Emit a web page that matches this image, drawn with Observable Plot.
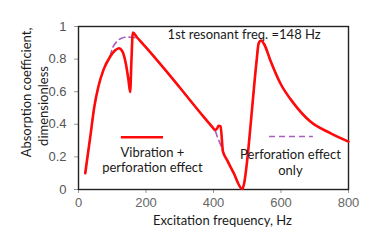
<!DOCTYPE html>
<html><head><meta charset="utf-8">
<script src="https://cdn.jsdelivr.net/npm/d3@7"></script>
<script src="https://cdn.jsdelivr.net/npm/@observablehq/plot@0.6"></script>
<style>html,body{margin:0;padding:0;background:#fff}</style>
</head><body><div id="chart"></div>
<script>
// Vibration + perforation effect (solid red)
const vibHz    = [20, 35, 47, 59, 74, 94, 108, 120, 130, 140, 148, 153, 157, 161, 173, 198, 265, 300, 362, 398, 404, 410, 415, 421, 428, 440, 460, 485, 490, 500, 514, 527, 534, 541, 551, 568, 598, 637, 687, 746, 800];
const vibAlpha = [0.10, 0.325, 0.509, 0.632, 0.734, 0.816, 0.853, 0.867, 0.847, 0.775, 0.673, 0.598, 0.80, 0.963, 0.934, 0.877, 0.714, 0.626, 0.468, 0.38, 0.366, 0.372, 0.391, 0.387, 0.233, 0.182, 0.10, 0.004, 0.03, 0.182, 0.489, 0.775, 0.898, 0.914, 0.888, 0.795, 0.652, 0.530, 0.417, 0.346, 0.294];
// Perforation effect only (dashed purple)
const perfHz    = [20, 35, 47, 59, 74, 94, 99, 114, 128, 145, 158, 173, 198, 265, 300, 362, 398, 404, 411, 421, 428, 440, 460, 485, 490, 500, 514, 527, 534, 541, 551, 568, 598, 637, 687, 746, 800];
const perfAlpha = [0.10, 0.325, 0.509, 0.632, 0.734, 0.82, 0.857, 0.908, 0.928, 0.935, 0.933, 0.93, 0.877, 0.714, 0.626, 0.468, 0.38, 0.366, 0.325, 0.274, 0.233, 0.182, 0.10, 0.004, 0.03, 0.182, 0.489, 0.775, 0.898, 0.914, 0.888, 0.795, 0.652, 0.530, 0.417, 0.346, 0.294];

const xTicks = [0, 200, 400, 600, 800];
const yTicks = [0, 0.2, 0.4, 0.6, 0.8, 1];
const seriesNames = ["Vibration +\nperforation effect", "Perforation effect\nonly"];
const annotation = "1st resonant freq. =148 Hz";
const xLabel = "Excitation frequency, Hz";
const yLabel = ["Absorption coefficient,", "dimensionless"];

const vib = vibHz.map((f, i) => ({f, a: vibAlpha[i]}));
const perf = perfHz.map((f, i) => ({f, a: perfAlpha[i]}));

const RED = "#ff0a0a", PURPLE = "#a45fc0";
const TXT = {fontFamily: "Lato", fontSize: 13, fill: "#1a1a1a"};

const chart = Plot.plot({
  width: 375, height: 243,
  marginLeft: 78, marginRight: 27, marginTop: 26, marginBottom: 54,
  style: {fontFamily: "Liberation Sans", fontSize: "13px", background: "#fff"},
  x: {domain: [0, 800]},
  y: {domain: [0, 1]},
  marks: [
    Plot.axisX({ticks: xTicks, tickSize: 4, tickPadding: 4, label: null, stroke: "#999", fill: "#666", fontSize: 13}),
    Plot.axisY({ticks: yTicks, tickSize: 4, tickPadding: 8, label: null, stroke: "#999", fill: "#555", fontSize: 13, tickFormat: d => String(+d.toFixed(1))}),
    Plot.frame({stroke: "#222", strokeWidth: 1.4}),
    Plot.line(perf, {x: "f", y: "a", stroke: PURPLE, strokeWidth: 1.6, strokeDasharray: "6,4", curve: "monotone-x"}),
    Plot.line(vib, {x: "f", y: "a", stroke: RED, strokeWidth: 2.6, curve: "monotone-x"}),
    // legend samples
    Plot.ruleY([0.321], {x1: 127, x2: 252, stroke: RED, strokeWidth: 2.6}),
    Plot.ruleY([0.325], {x1: 566, x2: 696, stroke: PURPLE, strokeWidth: 1.6, strokeDasharray: "6,4"}),
    Plot.text([seriesNames[0]], {x: 219, y: 0.183, text: d => d, lineHeight: 1.15, ...TXT}),
    Plot.text([seriesNames[1]], {x: 628, y: 0.17, text: d => d, lineHeight: 1.2, ...TXT}),
    Plot.text([annotation], {x: 264, y: 0.949, text: d => d, textAnchor: "start", ...TXT})
  ]
});

// axis titles
const svg = d3.select(chart);
const title = (txt, x, y, rot) => svg.append("text")
  .attr("transform", `translate(${x},${y}) rotate(${rot})`)
  .attr("text-anchor", "middle").attr("dominant-baseline", "central")
  .attr("font-family", "Lato").attr("font-size", 13).attr("fill", "#1a1a1a")
  .text(txt);
title(xLabel, 222.5, 220, 0);
title(yLabel[0], 26, 92.5, -90);
title(yLabel[1], 43, 106, -90);

document.getElementById("chart").appendChild(chart);
</script>
</body></html>
